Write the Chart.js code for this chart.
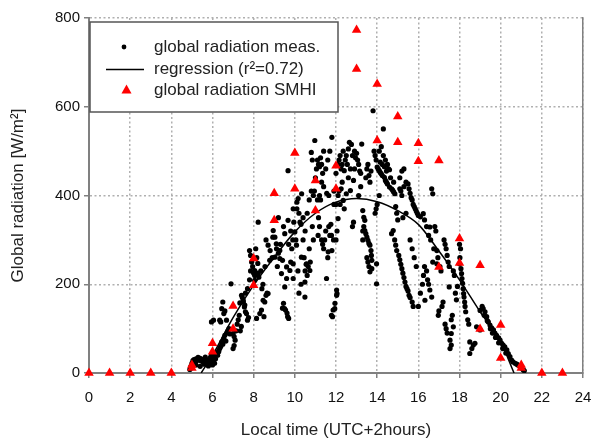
<!DOCTYPE html>
<html>
<head>
<meta charset="utf-8">
<script src="https://cdn.jsdelivr.net/npm/chart.js@4/dist/chart.umd.min.js"></script>
<style>
  html, body { margin: 0; padding: 0; background: #fff; }
  canvas { display: block; }
</style>
</head>
<body>
<canvas id="chart" width="595" height="441"></canvas>
<script>
// hourly tick labels of the x axis (local time) and radiation ticks
const hourTicks = [0, 2, 4, 6, 8, 10, 12, 14, 16, 18, 20, 22, 24];
const radTicks = [0, 200, 400, 600, 800];

// SMHI hourly global radiation (two values for some hours)
const smhiTime = [0, 1, 2, 3, 4, 5, 5, 6, 6, 7, 7, 8, 8, 9, 9, 10, 10, 11, 11, 12, 12,
  13, 13, 14, 14, 15, 15, 16, 16, 17, 17, 18, 18, 19, 19, 20, 20, 21, 21, 22, 23];
const smhiRad = [0, 0, 0, 0, 0, 18, 11, 67, 48, 151, 100, 258, 198, 405, 344, 496, 415, 434, 366, 467, 415,
  773, 685, 651, 524, 578, 520, 518, 477, 479, 239, 303, 248, 243, 99, 108, 34, 18, 11, 0, 0];

// regression curve
const regTime = [5.45, 6, 7, 8, 9, 10, 11, 12, 13, 14, 15, 16, 17, 18, 19, 20, 20.65];
const regRad = [0, 40, 125, 198, 261, 318, 360, 385, 393, 386, 366, 335, 275, 210, 138, 70, 0];

// measured global radiation [time h, W/m2]
const measPoints = [
  [4.9,8],[4.95,15],[5.0,22],[5.05,28],[5.1,30],[5.15,25],[5.2,32],[5.25,28],[5.3,35],[5.35,30],
  [5.4,33],[5.45,27],[5.5,30],[5.55,24],[5.6,32],[5.65,36],[5.7,28],[5.75,25],[5.8,30],[5.85,22],
  [5.9,35],[5.95,40],[6.0,30],[6.05,26],[6.1,38],[6.15,32],[6.2,45],[6.25,40],[5.0,12],[5.2,18],
  [5.4,15],[5.6,20],[5.8,16],[6.0,18],[6.1,22],[6.3,50],[6.35,55],
  [6.3,48],[6.4,60],[6.45,70],[6.5,65],[6.55,78],[6.6,85],[6.65,72],[6.7,90],[6.75,95],[6.8,100],
  [6.85,88],[6.35,119],[6.4,115],[6.45,145],[6.5,160],[6.55,134],[6.6,140],[6.68,119],[6.05,119],
  [5.95,115],[7.0,89],[7.05,82],[7.1,74],[7.0,55],[7.05,62],[6.9,201],[7.15,95],[7.2,110],
  [7.25,120],[7.3,130],[7.33,158],[7.41,175],[7.49,164],[7.57,153],[7.45,170],[7.5,160],[7.55,149],
  [7.6,138],[7.65,134],[7.7,119],[7.75,125],[7.6,180],[7.7,190],[7.8,210],[7.85,230],[7.8,276],
  [7.85,265],[7.9,250],[7.95,240],[8.0,225],[7.4,105],[7.35,95],
  [8.05,209],[8.05,220],[8.05,231],[8.1,280],[8.15,260],[8.2,247],[8.22,225],[8.25,216],[8.14,123],
  [8.3,134],[8.38,142],[8.46,164],[8.54,160],[8.6,175],[8.65,180],[8.7,179],[8.5,127],[8.22,340],
  [8.7,288],[8.78,254],[8.8,276],[8.9,260],[8.93,306],[8.95,321],[8.6,300],[8.4,190],[8.45,200],
  [8.55,240],[8.35,230],
  [9.03,261],[9.03,306],[9.1,291],[9.11,280],[9.2,270],[9.27,258],[9.27,276],[9.35,224],[9.4,254],
  [9.4,146],[9.45,157],[9.5,145],[9.51,194],[9.51,314],[9.55,142],[9.6,213],[9.6,239],[9.62,135],
  [9.65,127],[9.7,123],[9.67,344],[9.67,456],[9.76,231],[9.8,250],[9.85,280],[9.9,300],[9.92,213],
  [9.92,246],[9.92,370],[9.95,340],[10.0,318],[9.3,290],[9.15,240],[9.7,290],[9.8,320],[9.45,330],
  [9.2,350],
  [10.05,300],[10.08,288],[10.1,370],[10.1,385],[10.16,393],[10.2,360],[10.25,340],[10.3,335],
  [10.32,261],[10.33,404],[10.4,350],[10.45,260],[10.49,171],[10.49,205],[10.5,230],[10.55,245],
  [10.57,246],[10.6,220],[10.65,240],[10.7,280],[10.73,231],[10.75,250],[10.8,497],[10.85,480],
  [10.9,400],[10.95,410],[10.97,524],[10.6,360],[10.7,390],[10.8,410],[10.3,200],[10.2,180],
  [10.15,230],[10.4,300],[10.5,320],[10.9,300],[10.85,330],
  [11.0,440],[11.05,460],[11.1,480],[11.13,310],[11.15,470],[11.2,465],[11.25,485],[11.3,470],
  [11.35,450],[11.3,430],[11.2,400],[11.25,390],[11.4,420],[11.1,390],[11.15,350],[11.2,330],
  [11.3,300],[11.35,290],[11.4,280],[11.45,300],[11.5,320],[11.54,213],[11.6,260],[11.62,273],
  [11.65,330],[11.7,310],[11.75,335],[11.78,310],[11.78,130],[11.8,276],[11.83,127],[11.86,142],
  [11.88,300],[11.8,531],[11.9,380],[11.94,145],[11.95,157],[11.5,460],[11.6,480],[11.7,500],
  [11.4,500],[11.55,405],[11.65,400],[11.9,410],
  [12.0,450],[12.03,175],[12.03,187],[12.05,179],[12.1,348],[12.1,470],[12.15,480],[12.2,490],
  [12.25,460],[12.3,470],[12.35,389],[12.35,500],[12.4,456],[12.45,480],[12.5,404],[12.5,490],
  [12.55,470],[12.6,505],[12.65,520],[12.7,411],[12.75,515],[12.8,490],[12.85,434],[12.85,340],
  [12.8,330],[12.9,500],[12.95,485],[12.0,300],[12.05,320],[12.1,400],[12.2,380],[12.25,415],
  [12.3,430],[12.4,370],[12.6,440],[12.7,460],[12.9,460],[12.15,410],[12.0,380],
  [13.0,495],[13.05,480],[13.1,470],[13.15,455],[13.2,450],[13.25,516],[13.3,320],[13.3,300],
  [13.35,330],[13.3,366],[13.35,351],[13.4,344],[13.45,440],[13.5,460],[13.55,470],[13.6,445],
  [13.65,430],[13.7,455],[13.4,321],[13.45,314],[13.5,306],[13.55,299],[13.6,292],[13.65,288],
  [13.7,276],[13.72,265],[13.74,254],[13.74,235],[13.8,591],[13.85,500],[13.9,490],[13.95,480],
  [13.97,201],[13.97,246],[13.9,360],[13.95,370],[13.5,260],[13.55,250],[13.6,240],[13.65,228],
  [13.2,420],[13.1,400],
  [14.0,464],[14.05,460],[14.1,456],[14.15,452],[14.2,449],[14.25,445],[14.3,550],[14.35,441],
  [14.4,434],[14.45,430],[14.5,426],[14.55,460],[14.6,458],[14.6,419],[14.7,415],[14.75,412],
  [14.8,408],[14.86,404],[14.1,500],[14.2,510],[14.3,490],[14.4,480],[14.5,470],[14.7,314],
  [14.78,321],[14.9,375],[14.95,360],[15.0,345],[14.85,300],[14.9,288],[14.95,276],[14.1,400],
  [14.0,380],[14.15,475],[14.25,470],[14.35,465],[14.45,455],[14.65,440],[14.8,430],
  [15.05,265],[15.1,255],[15.15,245],[15.2,235],[15.25,225],[15.3,215],[15.35,205],[15.4,195],
  [15.45,190],[15.5,185],[15.55,175],[15.6,170],[15.7,160],[15.75,150],[15.1,415],[15.15,410],
  [15.2,400],[15.3,420],[15.4,430],[15.5,426],[15.55,415],[15.6,405],[15.65,395],[15.7,390],
  [15.75,380],[15.8,375],[15.85,370],[15.9,365],[15.95,360],[15.1,440],[15.2,455],[15.3,460],
  [15.25,350],[15.4,360],[15.6,300],[15.7,280],[15.8,260],[15.9,240],
  [16.0,355],[16.1,352],[16.24,359],[16.3,345],[16.32,164],[16.2,200],[16.25,220],[16.3,240],
  [16.4,230],[16.45,210],[16.5,200],[16.56,187],[16.56,329],[16.6,300],[16.65,171],[16.65,415],
  [16.7,404],[16.7,250],[16.75,280],[16.8,330],[16.85,320],[16.9,246],[16.9,276],[16.95,260],
  [16.97,130],[17.0,140],[16.1,180],[16.0,150],[16.4,330],[16.5,310],
  [17.05,240],[17.1,230],[17.15,150],[17.2,160],[17.25,300],[17.3,290],[17.35,280],[17.4,265],
  [17.5,194],[17.45,250],[17.5,240],[17.54,74],[17.54,55],[17.6,63],[17.6,89],[17.7,104],
  [17.7,230],[17.75,220],[17.8,180],[17.85,165],[17.9,195],[17.6,120],[17.65,130],[17.3,110],
  [17.35,100],[17.4,90],
  [18.0,246],[18.02,260],[18.05,280],[18.0,290],[18.07,235],[18.1,224],[18.12,213],[18.15,202],
  [18.18,190],[18.2,179],[18.22,171],[18.25,160],[18.27,150],[18.3,138],[18.5,70],[18.5,44],
  [18.6,55],[18.67,63],[18.75,67],[18.83,104],[19.0,97],[18.4,120],[18.45,110],
  [19.0,141],[19.1,150],[19.15,145],[19.24,138],[19.32,127],[19.4,115],[19.48,108],[19.56,102],
  [19.65,97],[19.72,90],[19.8,85],[19.9,79],[19.97,74],[20.05,67],[20.12,63],[20.2,59],[20.3,52],
  [20.37,44],[20.45,37],[20.53,29],[20.6,25],[20.7,22],[20.78,20],[20.85,18],[20.94,14],[21.0,11],
  [21.1,7],[21.15,5],[19.2,130],[19.35,118],[19.5,100],[19.6,90],[19.75,80],[19.9,68],[20.1,55],
  [20.25,45]
];

const axisGray = "#808080";
const font = "'Liberation Sans', Arial, sans-serif";

const smhiData = smhiTime.map((t, i) => ({ x: t, y: smhiRad[i] }));
const regData = regTime.map((t, i) => ({ x: t, y: regRad[i] }));
const measData = measPoints.map(p => ({ x: p[0], y: p[1] }));

// legend box drawn inside the plot, top left
const boxLegend = {
	id: "boxLegend",
	afterDraw(chart) {
		const { ctx, chartArea } = chart;
		const x0 = chartArea.left + 1, y0 = 22, x1 = 338, y1 = 112;
		ctx.save();
		ctx.fillStyle = "#fff";
		ctx.fillRect(x0, y0, x1 - x0, y1 - y0);
		ctx.strokeStyle = "#555";
		ctx.lineWidth = 1.5;
		ctx.strokeRect(x0, y0, x1 - x0, y1 - y0);

		ctx.fillStyle = "#000";
		ctx.beginPath();
		ctx.arc(124, 47, 2.4, 0, Math.PI * 2);
		ctx.fill();

		ctx.strokeStyle = "#000";
		ctx.lineWidth = 1.5;
		ctx.beginPath();
		ctx.moveTo(106, 69.5);
		ctx.lineTo(144, 69.5);
		ctx.stroke();

		ctx.fillStyle = "#ff0000";
		ctx.beginPath();
		ctx.moveTo(126.5, 84.5);
		ctx.lineTo(131.5, 93.5);
		ctx.lineTo(121.5, 93.5);
		ctx.closePath();
		ctx.fill();

		ctx.fillStyle = "#222";
		ctx.font = "17px " + font;
		ctx.textBaseline = "middle";
		ctx.fillText("global radiation meas.", 154, 47);
		ctx.fillText("regression (r\u00b2=0.72)", 154, 69);
		ctx.fillText("global radiation SMHI", 154, 90);
		ctx.restore();
	}
};

const config = {
	type: "scatter",
	data: {
		datasets: [
			{
				label: "global radiation SMHI",
				data: smhiData,
				pointStyle: "triangle",
				pointRadius: 5.5,
				backgroundColor: "#ff0000",
				borderColor: "#ff0000",
				borderWidth: 0,
				clip: false,
			},
			{
				label: "regression (r\u00b2=0.72)",
				data: regData,
				showLine: true,
				borderColor: "#000",
				borderWidth: 1.5,
				pointRadius: 0,
				cubicInterpolationMode: "monotone",
			},
			{
				label: "global radiation meas.",
				data: measData,
				pointRadius: 2.6,
				backgroundColor: "#000",
				borderWidth: 0,
			},
		],
	},
	options: {
		responsive: false,
		animation: false,
		layout: { padding: { top: 18, right: 12, left: 0, bottom: 0 } },
		plugins: {
			legend: { display: false },
			tooltip: { enabled: false },
		},
		scales: {
			x: {
				type: "linear",
				min: 0,
				max: 24,
				afterFit: s => { s.height = 68; s.paddingLeft = 0; s.paddingRight = 0; },
				afterBuildTicks: s => { s.ticks = hourTicks.map(v => ({ value: v })); },
				ticks: { color: "#111", font: { family: font, size: 15 }, padding: 11 },
				grid: { color: "#b0b0b0", lineWidth: 1.5, tickLength: 5, tickColor: axisGray, tickWidth: 1.5 },
				border: { color: axisGray, width: 2, dash: [2, 2.5] },
				title: {
					display: true,
					text: "Local time (UTC+2hours)",
					color: "#222",
					font: { family: font, size: 17 },
					padding: { top: 0, bottom: 0 },
				},
			},
			y: {
				min: 0,
				max: 800,
				afterFit: s => { s.width = 89; },
				afterBuildTicks: s => { s.ticks = radTicks.map(v => ({ value: v })); },
				ticks: { color: "#111", font: { family: font, size: 15 }, padding: 4 },
				grid: { color: "#b0b0b0", lineWidth: 1.5, tickLength: 5, tickColor: axisGray, tickWidth: 1.5 },
				border: { color: axisGray, width: 2, dash: [2, 2.5] },
				title: {
					display: true,
					text: "Global radiation [W/m\u00b2]",
					color: "#222",
					font: { family: font, size: 17 },
					padding: { top: 8, bottom: 0 },
				},
			},
			yRight: {
				position: "right",
				min: 0,
				max: 800,
				afterFit: s => { s.width = 0; },
				ticks: { display: false },
				grid: { display: false, drawTicks: false },
				border: { color: axisGray, width: 1.5 },
			},
		},
	},
	plugins: [boxLegend],
};

new Chart(document.getElementById("chart"), config);
</script>
</body>
</html>
